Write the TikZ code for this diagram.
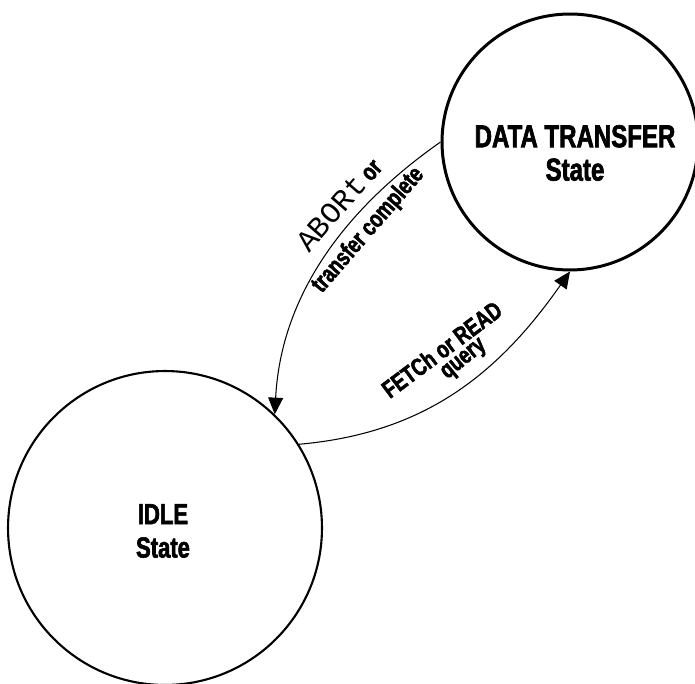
\documentclass[tikz,border=0pt]{standalone}
\usepackage{fontspec}
\newfontfamily\condsf{Liberation Sans Bold}[FakeStretch=0.76, FakeBold=2]
\setmonofont{Liberation Mono}
\usetikzlibrary{arrows.meta,positioning}

\tikzset{
  state/.style={circle, draw, inner sep=0pt},
  statetxt/.style={align=center, inner sep=0pt, font=\condsf\fontsize{16.5}{19}\selectfont},
  trans/.style={-{Triangle[length=9.5pt,width=8.5pt]}, line width=0.6pt},
  translbl/.style={inner sep=0pt, sloped, font=\condsf\fontsize{14}{15}\selectfont}
}

\begin{document}
\begin{tikzpicture}[x=0.02cm,y=0.02cm]
\useasboundingbox (0,0) rectangle (695,683);
% states
\node[state, line width=1.2pt, minimum size=6.28cm] (idle) at (165,155) {};
\node[state, line width=1.7pt, minimum size=5.12cm] (xfer) at (570,541) {};
\node[statetxt] (idletxt) at (163,152) {IDLE\\State};
\node[statetxt, font=\condsf\fontsize{18}{19}\selectfont] (xfertxt) at (575,530) {DATA TRANSFER\\State};
% transitions
\draw[trans] (xfer.180) to[out=215,in=87,looseness=0.95]
  node[translbl, pos=0.34, above, outer sep=6pt] (abortlbl) {{\ttfamily\fontsize{17}{17}\selectfont ABORt} or}
  node[translbl, pos=0.34, below, outer sep=4pt] (donelbl) {transfer complete}
  (idle.46);
\draw[trans] (idle.32) to[out=5,in=235]
  node[translbl, pos=0.55, above, outer sep=19pt] (fetchlbl) {FETCh or READ}
  node[translbl, pos=0.59, above, outer sep=6pt] (querylbl) {query}
  (xfer.270);
\end{tikzpicture}
\end{document}
